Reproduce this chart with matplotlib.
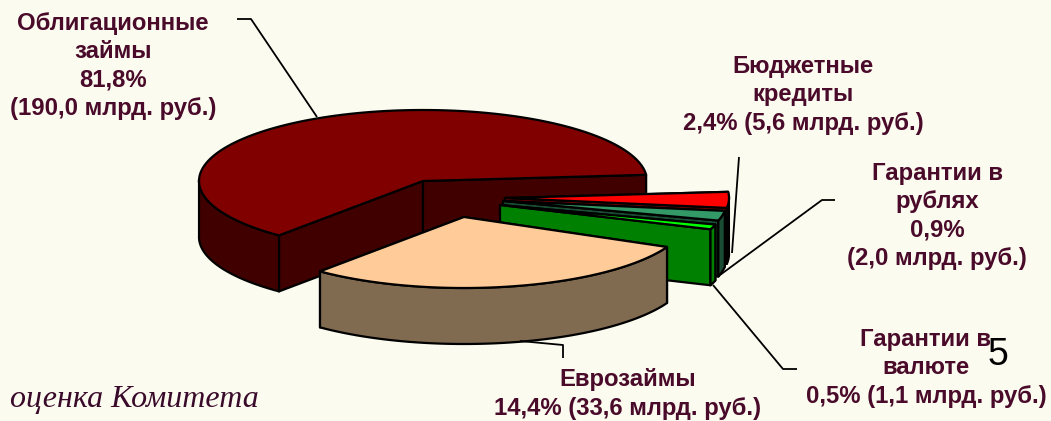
import numpy as np
import matplotlib
matplotlib.use("Agg")
import matplotlib.pyplot as plt
from matplotlib.patches import Polygon

# values printed on the chart
names = ["Облигационные\nзаймы", "Еврозаймы", "Бюджетные\nкредиты", "Гарантии в\nрублях", "Гарантии в\nвалюте"]
shares = [81.8, 14.4, 2.4, 0.9, 0.5]
amounts = [190.0, 33.6, 5.6, 2.0, 1.1]

# slices as they appear on the picture: start angle and sweep in degrees
start_deg = [5, 230, -8, -16, -20]
sweep_deg = [225, 105, 13, 8, 4]
top_colors = ["#800000", "#FFCC99", "#FF0000", "#339966", "#00FF00"]
side_colors = ["#400000", "#806A50", "#800000", "#1A4D33", "#008000"]

BG = "#FBFBEF"
TXT = "#4A0A2A"
W, H = 1051, 421
CX, CY, RX, RY, DEPTH = 423, 181, 224, 71, 56
offsets = [(0, 0), (41, 36), (82, 17), (80, 20), (77, 24)]

fig = plt.figure(figsize=(W / 100, H / 100), dpi=100, facecolor=BG)
ax = fig.add_axes([0, 0, 1, 1])
ax.set_xlim(0, W)
ax.set_ylim(H, 0)
ax.axis("off")
LW = 1.6


def pt(i, deg):
    a = np.radians(deg)
    return (CX + offsets[i][0] + RX * np.cos(a), CY + offsets[i][1] - RY * np.sin(a))


def wedge(i, z):
    a0, s = start_deg[i], sweep_deg[i]
    apex = (CX + offsets[i][0], CY + offsets[i][1])
    angs = np.linspace(a0, a0 + s, 120)
    arc = [pt(i, d) for d in angs]

    def face(p):
        ax.add_patch(Polygon(p, closed=True, fc=side_colors[i], ec="black", lw=LW, zorder=z, joinstyle="round"))

    def down(q):
        return (q[0], q[1] + DEPTH)

    # the far cut goes first, so the near cut covers it
    face([apex, arc[-1], down(arc[-1]), down(apex)])
    face([apex, arc[0], down(arc[0]), down(apex)])
    # outer rim: only the part with sin < 0 faces the viewer
    rim = [pt(i, d) for d in angs if np.sin(np.radians(d)) <= 0.03]
    if len(rim) > 1:
        face(rim + [down(q) for q in rim[::-1]])
    ax.add_patch(Polygon([apex] + arc, closed=True, fc=top_colors[i], ec="black", lw=LW, zorder=z + 0.5, joinstyle="round"))


for order, i in enumerate([0, 2, 3, 4, 1]):
    wedge(i, 2 + order)

# leader lines
leaders = [
    [(237, 19), (251, 19), (317, 117)],
    [(739, 157), (732, 253)],
    [(835, 200), (822, 200), (720, 275)],
    [(797, 369), (783, 369), (713, 285)],
    [(563, 358), (563, 345), (520, 341)],
]
for L in leaders:
    xs, ys = zip(*L)
    ax.plot(xs, ys, color="black", lw=1.3, zorder=8, solid_capstyle="butt")


def fmt(v):
    return f"{v:.1f}".replace(".", ",")


font = dict(family="Liberation Sans", weight="bold", fontsize=17.2, color=TXT, ha="center", va="center", linespacing=1.28, zorder=10)
ax.text(113, 66, f"{names[0]}\n{fmt(shares[0])}%\n({fmt(amounts[0])} млрд. руб.)", **font)
ax.text(803, 95, f"{names[2]}\n{fmt(shares[2])}% ({fmt(amounts[2])} млрд. руб.)", **font)
ax.text(937, 216, f"{names[3]}\n{fmt(shares[3])}%\n({fmt(amounts[3])} млрд. руб.)", **font)
ax.text(926, 368, f"{names[4]}\n{fmt(shares[4])}% ({fmt(amounts[4])} млрд. руб.)", **font)
ax.text(628, 394, f"{names[1]}\n{fmt(shares[1])}% ({fmt(amounts[1])} млрд. руб.)", **font)
ax.text(998, 355, "5", family="Liberation Sans", fontsize=27, color="black", ha="center", va="center", zorder=11)
ax.text(134, 400, "оценка Комитета", family="Liberation Serif", style="italic", fontsize=23, color="#3A0A2A", ha="center", va="center", zorder=10)

fig.savefig("out.png", dpi=100, facecolor=BG)
